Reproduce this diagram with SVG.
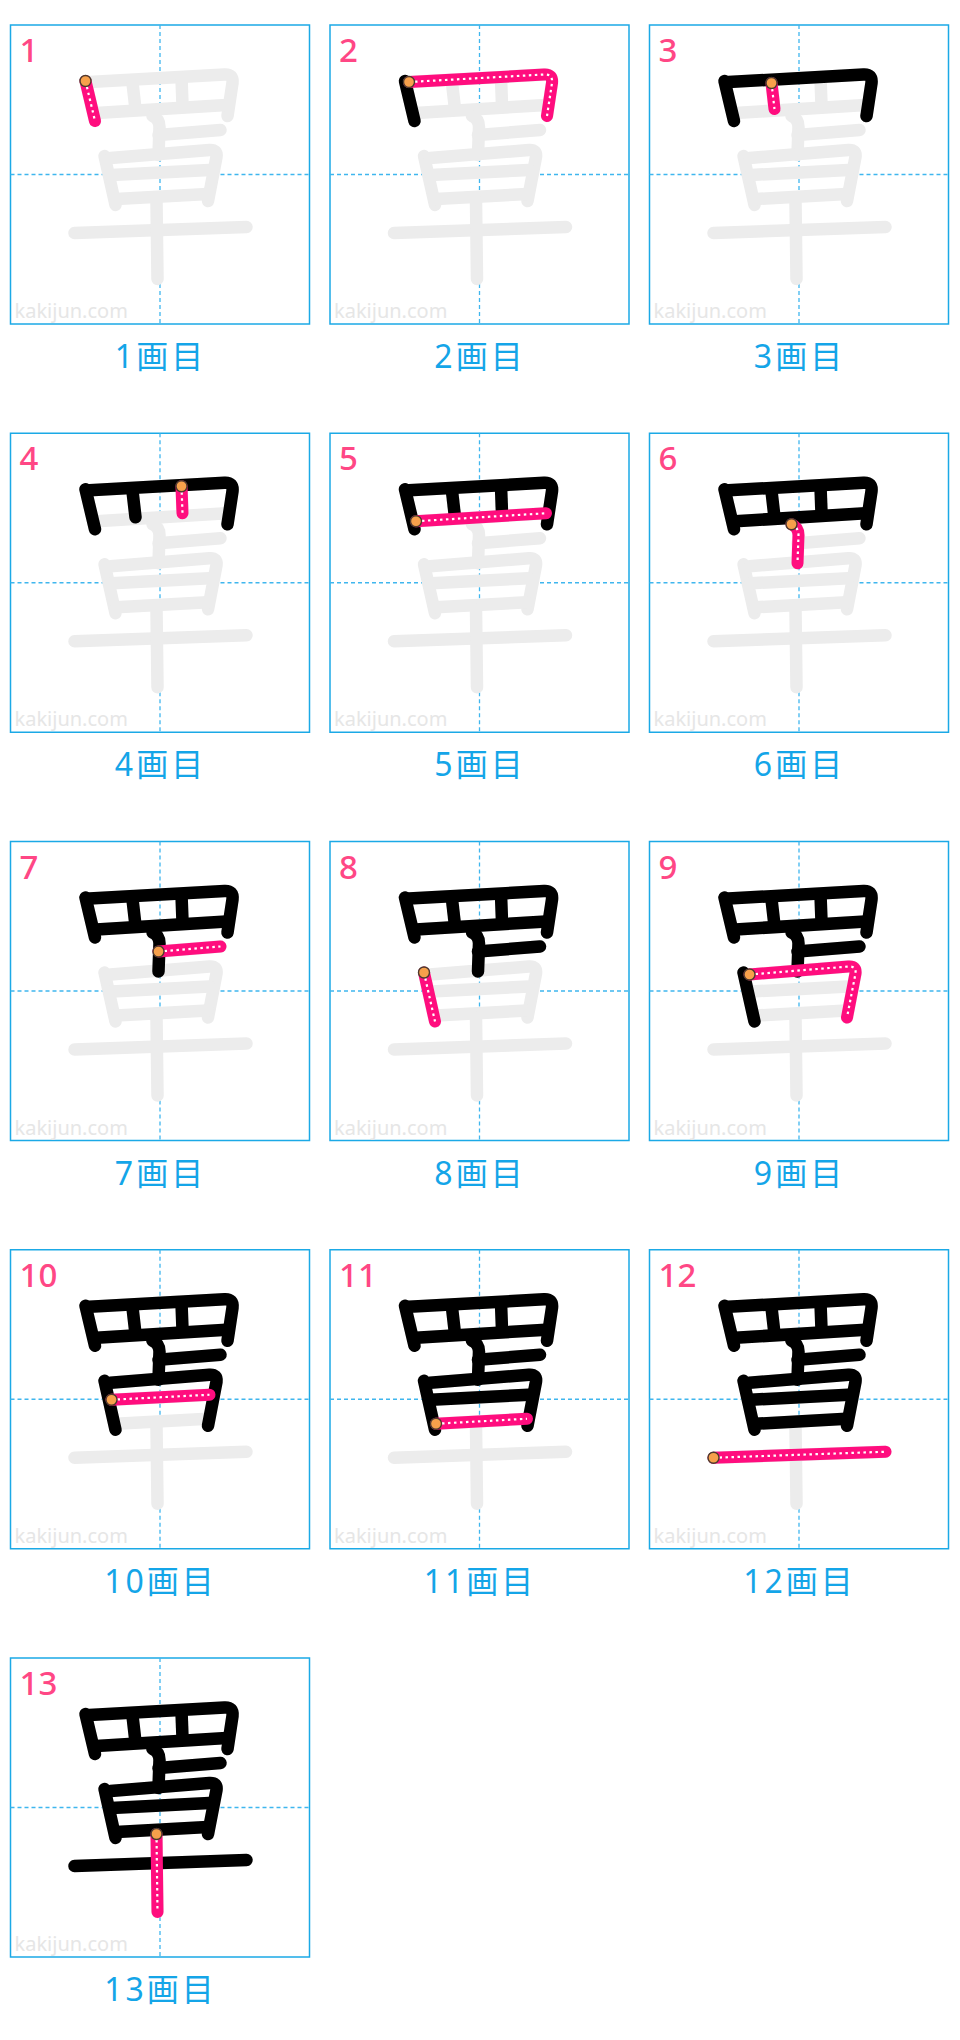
<svg xmlns="http://www.w3.org/2000/svg" xmlns:xlink="http://www.w3.org/1999/xlink" width="960" height="2040" viewBox="0 0 960 2040">
<style>
.frame{fill:#fff;stroke:#1ba9e6;stroke-width:1.5}
.grid{fill:none;stroke:#3fb6ee;stroke-width:1.3;stroke-dasharray:4 3}
.wm{font-family:"Noto Sans","Liberation Sans",sans-serif;font-size:20px;fill:#e6e6e6}
.num{font-family:"Noto Sans","Liberation Sans",sans-serif;font-size:33px;font-weight:500;fill:#ff4785}
.lbl{font-family:"Noto Sans","Noto Sans CJK JP",sans-serif;font-size:32px;fill:#14a5e8;text-anchor:middle;letter-spacing:3px}
.ghost{fill:none;stroke:#ececec;stroke-width:12.5;stroke-linecap:round;stroke-linejoin:round}
.blk{fill:none;stroke:#000;stroke-width:12.5;stroke-linecap:round;stroke-linejoin:round}
.cur{fill:none;stroke:#ff0d7e;stroke-width:12;stroke-linecap:round;stroke-linejoin:round}
.dot{fill:none;stroke:#fff;stroke-width:2.2;stroke-dasharray:2.5 3.5}
.start{fill:#f7a04b;stroke:#4d3b2e;stroke-width:1.4}
</style>
<defs>
<path id="s1" d="M75,56 L84.5,96"/>
<path id="s2" d="M79,57 L214,49.5 Q223,49 222,58 L217,91"/>
<path id="s3" d="M122,58 L125,84"/>
<path id="s4" d="M171,53 L172,80"/>
<path id="s5" d="M86,88 L216,80"/>
<path id="s6" d="M142,91 Q149,94 149,102 L148,130"/>
<path id="s7" d="M148,110 L210,105"/>
<path id="s8" d="M94,131 L105,180"/>
<path id="s9" d="M100,133 L199,125 Q207,124.5 206,132 L197.5,176"/>
<path id="s10" d="M101,150 L199,145"/>
<path id="s11" d="M106,174 L197,169"/>
<path id="s12" d="M64,208 L236,202"/>
<path id="s13" d="M146,176 L147,254"/>
<g id="ghost" class="ghost">
<use href="#s1"/><use href="#s2"/><use href="#s3"/><use href="#s4"/><use href="#s5"/><use href="#s6"/><use href="#s7"/><use href="#s8"/><use href="#s9"/><use href="#s10"/><use href="#s11"/><use href="#s12"/><use href="#s13"/>
</g>
<g id="base">
<rect class="frame" width="299" height="299"/>
<path class="grid" d="M149.5,0V299M0,149.5H299"/>
<text class="wm" x="4" y="293">kakijun.com</text>
<use href="#ghost"/>
</g>
</defs>
<rect width="960" height="2040" fill="#fff"/>

<g id="panel-1" transform="translate(10.5,25)">
<use href="#base"/><text class="num" x="9" y="37">1</text>
<use href="#s1" class="cur"/><use href="#s1" class="dot"/><circle class="start" cx="75" cy="56" r="5.5"/>
<text class="lbl" x="150" y="343">1画目</text>
</g>

<g id="panel-2" transform="translate(330,25)">
<use href="#base"/><text class="num" x="9" y="37">2</text>
<use href="#s1" class="blk"/>
<use href="#s2" class="cur"/><use href="#s2" class="dot"/><circle class="start" cx="79" cy="57" r="5.5"/>
<text class="lbl" x="150" y="343">2画目</text>
</g>

<g id="panel-3" transform="translate(649.5,25)">
<use href="#base"/><text class="num" x="9" y="37">3</text>
<use href="#s1" class="blk"/><use href="#s2" class="blk"/>
<use href="#s3" class="cur"/><use href="#s3" class="dot"/><circle class="start" cx="122" cy="58" r="5.5"/>
<text class="lbl" x="150" y="343">3画目</text>
</g>

<g id="panel-4" transform="translate(10.5,433.25)">
<use href="#base"/><text class="num" x="9" y="37">4</text>
<use href="#s1" class="blk"/><use href="#s2" class="blk"/><use href="#s3" class="blk"/>
<use href="#s4" class="cur"/><use href="#s4" class="dot"/><circle class="start" cx="171" cy="53" r="5.5"/>
<text class="lbl" x="150" y="343">4画目</text>
</g>

<g id="panel-5" transform="translate(330,433.25)">
<use href="#base"/><text class="num" x="9" y="37">5</text>
<use href="#s1" class="blk"/><use href="#s2" class="blk"/><use href="#s3" class="blk"/><use href="#s4" class="blk"/>
<use href="#s5" class="cur"/><use href="#s5" class="dot"/><circle class="start" cx="86" cy="88" r="5.5"/>
<text class="lbl" x="150" y="343">5画目</text>
</g>

<g id="panel-6" transform="translate(649.5,433.25)">
<use href="#base"/><text class="num" x="9" y="37">6</text>
<use href="#s1" class="blk"/><use href="#s2" class="blk"/><use href="#s3" class="blk"/><use href="#s4" class="blk"/><use href="#s5" class="blk"/>
<use href="#s6" class="cur"/><use href="#s6" class="dot"/><circle class="start" cx="142" cy="91" r="5.5"/>
<text class="lbl" x="150" y="343">6画目</text>
</g>

<g id="panel-7" transform="translate(10.5,841.5)">
<use href="#base"/><text class="num" x="9" y="37">7</text>
<use href="#s1" class="blk"/><use href="#s2" class="blk"/><use href="#s3" class="blk"/><use href="#s4" class="blk"/><use href="#s5" class="blk"/><use href="#s6" class="blk"/>
<use href="#s7" class="cur"/><use href="#s7" class="dot"/><circle class="start" cx="148" cy="110" r="5.5"/>
<text class="lbl" x="150" y="343">7画目</text>
</g>

<g id="panel-8" transform="translate(330,841.5)">
<use href="#base"/><text class="num" x="9" y="37">8</text>
<use href="#s1" class="blk"/><use href="#s2" class="blk"/><use href="#s3" class="blk"/><use href="#s4" class="blk"/><use href="#s5" class="blk"/><use href="#s6" class="blk"/><use href="#s7" class="blk"/>
<use href="#s8" class="cur"/><use href="#s8" class="dot"/><circle class="start" cx="94" cy="131" r="5.5"/>
<text class="lbl" x="150" y="343">8画目</text>
</g>

<g id="panel-9" transform="translate(649.5,841.5)">
<use href="#base"/><text class="num" x="9" y="37">9</text>
<use href="#s1" class="blk"/><use href="#s2" class="blk"/><use href="#s3" class="blk"/><use href="#s4" class="blk"/><use href="#s5" class="blk"/><use href="#s6" class="blk"/><use href="#s7" class="blk"/><use href="#s8" class="blk"/>
<use href="#s9" class="cur"/><use href="#s9" class="dot"/><circle class="start" cx="100" cy="133" r="5.5"/>
<text class="lbl" x="150" y="343">9画目</text>
</g>

<g id="panel-10" transform="translate(10.5,1249.75)">
<use href="#base"/><text class="num" x="9" y="37">10</text>
<use href="#s1" class="blk"/><use href="#s2" class="blk"/><use href="#s3" class="blk"/><use href="#s4" class="blk"/><use href="#s5" class="blk"/><use href="#s6" class="blk"/><use href="#s7" class="blk"/><use href="#s8" class="blk"/><use href="#s9" class="blk"/>
<use href="#s10" class="cur"/><use href="#s10" class="dot"/><circle class="start" cx="101" cy="150" r="5.5"/>
<text class="lbl" x="150" y="343">10画目</text>
</g>

<g id="panel-11" transform="translate(330,1249.75)">
<use href="#base"/><text class="num" x="9" y="37">11</text>
<use href="#s1" class="blk"/><use href="#s2" class="blk"/><use href="#s3" class="blk"/><use href="#s4" class="blk"/><use href="#s5" class="blk"/><use href="#s6" class="blk"/><use href="#s7" class="blk"/><use href="#s8" class="blk"/><use href="#s9" class="blk"/><use href="#s10" class="blk"/>
<use href="#s11" class="cur"/><use href="#s11" class="dot"/><circle class="start" cx="106" cy="174" r="5.5"/>
<text class="lbl" x="150" y="343">11画目</text>
</g>

<g id="panel-12" transform="translate(649.5,1249.75)">
<use href="#base"/><text class="num" x="9" y="37">12</text>
<use href="#s1" class="blk"/><use href="#s2" class="blk"/><use href="#s3" class="blk"/><use href="#s4" class="blk"/><use href="#s5" class="blk"/><use href="#s6" class="blk"/><use href="#s7" class="blk"/><use href="#s8" class="blk"/><use href="#s9" class="blk"/><use href="#s10" class="blk"/><use href="#s11" class="blk"/>
<use href="#s12" class="cur"/><use href="#s12" class="dot"/><circle class="start" cx="64" cy="208" r="5.5"/>
<text class="lbl" x="150" y="343">12画目</text>
</g>

<g id="panel-13" transform="translate(10.5,1658)">
<use href="#base"/><text class="num" x="9" y="37">13</text>
<use href="#s1" class="blk"/><use href="#s2" class="blk"/><use href="#s3" class="blk"/><use href="#s4" class="blk"/><use href="#s5" class="blk"/><use href="#s6" class="blk"/><use href="#s7" class="blk"/><use href="#s8" class="blk"/><use href="#s9" class="blk"/><use href="#s10" class="blk"/><use href="#s11" class="blk"/><use href="#s12" class="blk"/>
<use href="#s13" class="cur"/><use href="#s13" class="dot"/><circle class="start" cx="146" cy="176" r="5.5"/>
<text class="lbl" x="150" y="343">13画目</text>
</g>
</svg>
